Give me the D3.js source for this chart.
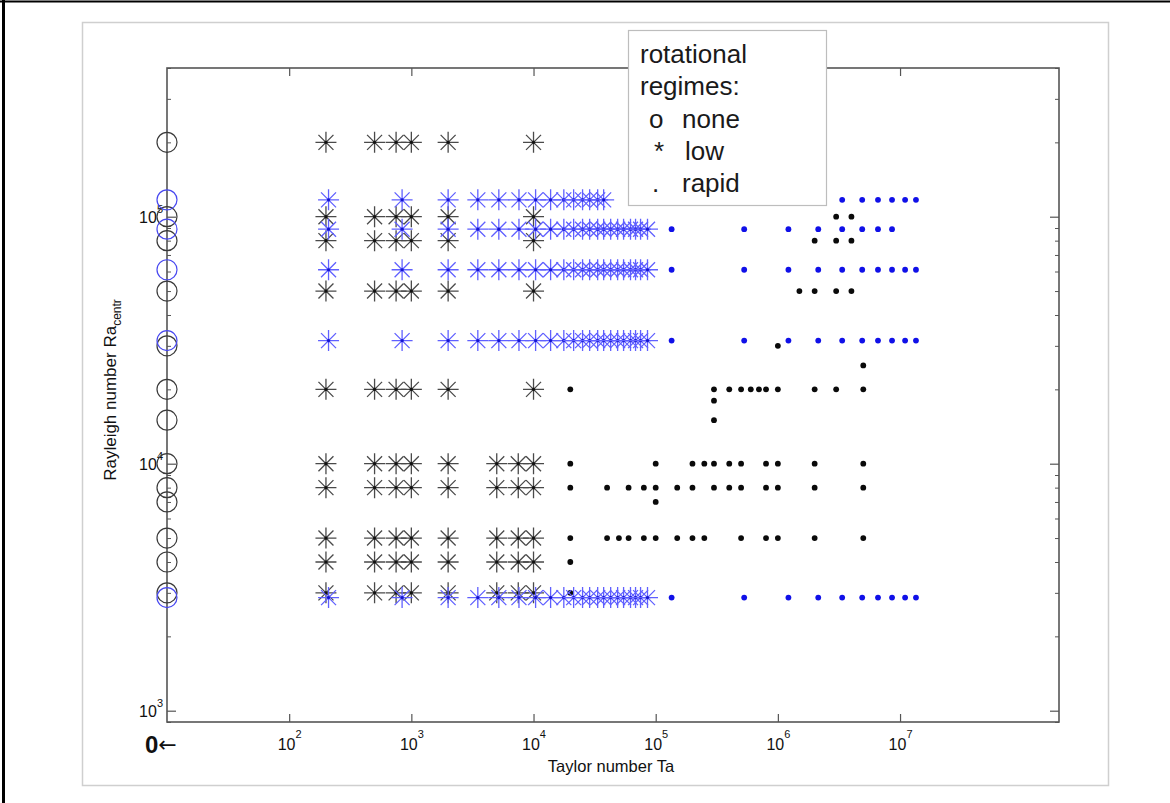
<!DOCTYPE html>
<html>
<head>
<meta charset="utf-8">
<script src="https://cdn.jsdelivr.net/npm/d3@7"></script>
<style>
body { margin: 0; background: #fff; }
svg text { font-family: "Liberation Sans", Arial, Helvetica, sans-serif; }
</style>
</head>
<body>
<div id="chart"></div>
<script>
// --- data (Ta = Taylor number, Ra = Rayleigh number) ---
// regime "none" : Ta = 0, drawn on the left axis
const ra_none_black = [2e5, 1e5, 8e4, 5e4, 3e4, 2e4, 1.5e4, 1e4, 8e3, 7e3, 5e3, 4e3, 3e3];
const ra_none_blue = [1.17e5, 8.9e4, 6.1e4, 3.15e4, 2.87e3];

// regime "low" (asterisks)
const ta_low_black_a = [200, 500, 750, 1000, 2000, 10000];
const ra_low_black_a = [2e5, 1e5, 8e4, 5e4, 2e4];
const ta_low_black_b = [200, 500, 750, 1000, 2000, 5000, 7500, 10000];
const ra_low_black_b = [1e4, 8e3, 5e3, 4e3, 3e3];

const ta_low_blue = [210, 840, 2000, 3500, 5200, 7600, 10400, 13800, 17700, 21300, 25200,
  28800, 33500, 37500, 42800, 48800, 54600, 62200, 68400, 75200, 85700];
const ta_low_blue_top = [210, 840, 2000, 3500, 5200, 7600, 10400, 13800, 17700, 21300, 25200,
  28800, 33500, 37500];
const ra_low_blue = [8.9e4, 6.1e4, 3.15e4, 2.87e3];
const ra_low_blue_top = 1.17e5;

// regime "rapid" (dots)
const ta_rapid_blue = [1.35e5, 5.3e5, 1.22e6, 2.14e6, 3.36e6, 4.9e6, 6.6e6, 8.6e6, 1.1e7, 1.35e7];
const ta_rapid_blue_top = [3.36e6, 4.9e6, 6.6e6, 8.6e6, 1.1e7, 1.35e7];
const ta_rapid_blue_b = [1.35e5, 5.3e5, 1.22e6, 2.14e6, 3.36e6, 4.9e6, 6.6e6, 8.6e6];
const ra_rapid_blue = [6.1e4, 3.15e4, 2.87e3];

const rapid_black = [
  [1e5, [3e6, 4e6]],
  [8e4, [2e6, 3e6, 4e6]],
  [5e4, [1.5e6, 2e6, 3e6, 4e6]],
  [3e4, [1e6]],
  [2.5e4, [5e6]],
  [2e4, [2e4, 3e5, 4e5, 5e5, 6e5, 7e5, 8e5, 1e6, 2e6, 3e6, 5e6]],
  [1.8e4, [3e5]],
  [1.5e4, [3e5]],
  [1e4, [2e4, 1e5, 2e5, 2.5e5, 3e5, 4e5, 5e5, 8e5, 1e6, 2e6, 5e6]],
  [8e3, [2e4, 4e4, 6e4, 8e4, 1e5, 1.5e5, 2e5, 3e5, 4e5, 5e5, 8e5, 1e6, 2e6, 5e6]],
  [7e3, [1e5]],
  [5e3, [2e4, 4e4, 5e4, 6e4, 8e4, 1e5, 1.5e5, 2e5, 2.5e5, 5e5, 8e5, 1e6, 2e6, 5e6]],
  [4e3, [2e4]],
  [3e3, [2e4]]
];

const x_ticks = [1e2, 1e3, 1e4, 1e5, 1e6, 1e7];
const y_ticks = [1e3, 1e4, 1e5];
const legend_lines = ["rotational", "regimes:"];
const legend_items = [["o", "none"], ["*", "low"], [".", "rapid"]];

// --- build point lists ---
function pairs(tas, ras) {
  let out = [];
  ras.forEach(r => tas.forEach(t => out.push([t, r])));
  return out;
}
const pts_none_black = ra_none_black.map(r => [0, r]);
const pts_none_blue = ra_none_blue.map(r => [0, r]);
const pts_low_black = pairs(ta_low_black_a, ra_low_black_a).concat(pairs(ta_low_black_b, ra_low_black_b));
const pts_low_blue = pairs(ta_low_blue_top, [ra_low_blue_top]).concat(pairs(ta_low_blue, ra_low_blue));
const pts_rapid_blue = pairs(ta_rapid_blue_top, [ra_low_blue_top])
  .concat(pairs(ta_rapid_blue_b, [8.9e4]))
  .concat(pairs(ta_rapid_blue, ra_rapid_blue));
let pts_rapid_black = [];
rapid_black.forEach(row => row[1].forEach(t => pts_rapid_black.push([t, row[0]])));

// --- drawing ---
const W = 1170, H = 803;
const svg = d3.select("#chart").append("svg").attr("width", W).attr("height", H);
svg.append("rect").attr("width", W).attr("height", H).attr("fill", "#fff");

// page frame
svg.append("line").attr("x1", 3.5).attr("x2", 3.5).attr("y1", 0).attr("y2", H)
  .attr("stroke", "#000").attr("stroke-width", 3);
svg.append("line").attr("x1", 0).attr("x2", W).attr("y1", 1.5).attr("y2", 1.5)
  .attr("stroke", "#000").attr("stroke-width", 2);
svg.append("rect").attr("x", 82.5).attr("y", 22.5).attr("width", 1026).attr("height", 763)
  .attr("fill", "none").attr("stroke", "#cfcfcf").attr("stroke-width", 1.5);

const x = d3.scaleLog().domain([10, 2e8]).range([167, 1059]);
const y = d3.scaleLog().domain([900, 4e5]).range([722, 68]);
const px = t => t === 0 ? x.range()[0] : x(t);

const axisColor = "#555";
const isPow10 = v => Math.abs(Math.log10(v) - Math.round(Math.log10(v))) < 1e-9;
const y_minor = y.ticks().filter(v => !isPow10(v));

// bottom axis with labels
let gx = svg.append("g").attr("transform", "translate(0,722)")
  .call(d3.axisBottom(x).tickValues(x_ticks).tickSize(-8).tickSizeOuter(0).tickFormat(() => ""));
gx.select(".domain").remove();
gx.attr("font-family", null).attr("font-size", 16);
gx.selectAll(".tick line").attr("stroke", axisColor).attr("stroke-width", 1.2);
gx.selectAll(".tick text").each(function(d) {
  const t = d3.select(this).attr("y", 28).attr("dy", null).attr("fill", "#111").attr("text-anchor", "middle");
  t.append("tspan").text("10");
  t.append("tspan").attr("dy", -12).attr("font-size", 11).text(Math.round(Math.log10(d)));
});

// top axis ticks
let gt = svg.append("g").attr("transform", "translate(0,68)")
  .call(d3.axisTop(x).tickValues(x_ticks).tickSize(-8).tickSizeOuter(0).tickFormat(() => ""));
gt.select(".domain").remove();
gt.selectAll(".tick line").attr("stroke", axisColor).attr("stroke-width", 1.2);

// left axis with labels
let gy = svg.append("g").attr("transform", "translate(167,0)")
  .call(d3.axisLeft(y).tickValues(y_ticks).tickSize(-9).tickSizeOuter(0).tickFormat(() => ""));
gy.select(".domain").remove();
gy.attr("font-family", null).attr("font-size", 16);
gy.selectAll(".tick line").attr("stroke", axisColor).attr("stroke-width", 1.2);
gy.selectAll(".tick text").each(function(d) {
  const t = d3.select(this).attr("x", -4).attr("y", 6).attr("dy", null).attr("fill", "#111");
  t.append("tspan").text("10");
  t.append("tspan").attr("dy", -10).attr("font-size", 11).text(Math.round(Math.log10(d)));
});
let gym = svg.append("g").attr("transform", "translate(167,0)")
  .call(d3.axisLeft(y).tickValues(y_minor).tickSize(-4).tickSizeOuter(0).tickFormat(() => ""));
gym.select(".domain").remove();
gym.selectAll(".tick line").attr("stroke", axisColor);

// right axis ticks
let gr = svg.append("g").attr("transform", "translate(1059,0)")
  .call(d3.axisRight(y).tickValues(y_ticks).tickSize(-9).tickSizeOuter(0).tickFormat(() => ""));
gr.select(".domain").remove();
gr.selectAll(".tick line").attr("stroke", axisColor).attr("stroke-width", 1.2);
let grm = svg.append("g").attr("transform", "translate(1059,0)")
  .call(d3.axisRight(y).tickValues(y_minor).tickSize(-4).tickSizeOuter(0).tickFormat(() => ""));
grm.select(".domain").remove();
grm.selectAll(".tick line").attr("stroke", axisColor);

// axes box
svg.append("rect").attr("x", 167).attr("y", 68).attr("width", 1059 - 167).attr("height", 722 - 68)
  .attr("fill", "none").attr("stroke", axisColor).attr("stroke-width", 1.6);

// markers
const R = 10.5, A = 7.5;
const starPath = `M${-R},0H${R}M0,${-R}V${R}M${-A},${-A}L${A},${A}M${-A},${A}L${A},${-A}`;

function circles(pts, color) {
  svg.append("g").selectAll("circle").data(pts).enter().append("circle")
    .attr("cx", d => px(d[0])).attr("cy", d => y(d[1])).attr("r", 10)
    .attr("fill", "none").attr("stroke", color).attr("stroke-width", 1.2);
}
function stars(pts, color, dot) {
  let g = svg.append("g").selectAll("g").data(pts).enter().append("g")
    .attr("transform", d => `translate(${px(d[0])},${y(d[1])})`);
  g.append("path").attr("d", starPath).attr("fill", "none").attr("stroke", color).attr("stroke-width", 1.3);
  g.append("circle").attr("r", 1.6).attr("fill", dot);
}
function dots(pts, color) {
  svg.append("g").selectAll("circle").data(pts).enter().append("circle")
    .attr("cx", d => px(d[0])).attr("cy", d => y(d[1])).attr("r", 2.9).attr("fill", color);
}

circles(pts_none_black, "#3a3a3a");
stars(pts_low_black, "#4a4a4a", "#111");
dots(pts_rapid_black, "#0a0a0a");
circles(pts_none_blue, "#4848f0");
stars(pts_low_blue, "#6060ff", "#1515d0");
dots(pts_rapid_blue, "#1010e8");

// axis titles
svg.append("text").attr("x", 611).attr("y", 772).attr("text-anchor", "middle")
  .attr("font-size", 16.5).attr("fill", "#111").text("Taylor number Ta");

let yl = svg.append("text").attr("transform", "translate(116,390) rotate(-90)")
  .attr("text-anchor", "middle").attr("font-size", 17).attr("fill", "#111");
yl.append("tspan").text("Rayleigh number Ra");
yl.append("tspan").attr("dy", 5).attr("font-size", 12).text("centr");

// "0 <-" marker under the left axis
let zl = svg.append("text").attr("x", 145).attr("y", 753).attr("fill", "#111");
zl.append("tspan").attr("font-size", 24).attr("font-weight", "bold").text("0");
zl.append("tspan").attr("font-size", 22).attr("dy", -1)
  .style("font-family", "'DejaVu Sans', sans-serif").text("←");

// legend box
let lg = svg.append("g");
lg.append("rect").attr("x", 628.5).attr("y", 30.5).attr("width", 198).attr("height", 175)
  .attr("fill", "#fff").attr("stroke", "#bdbdbd").attr("stroke-width", 1.2);
legend_lines.forEach((s, i) => {
  lg.append("text").attr("x", 640).attr("y", 63 + i * 32.3).attr("font-size", 26)
    .attr("fill", "#1a1a1a").text(s);
});
const symX = [649, 654, 652], labX = [682, 685, 682];
legend_items.forEach((it, i) => {
  let t = lg.append("text").attr("y", 128 + i * 32).attr("font-size", 26).attr("fill", "#1a1a1a");
  t.append("tspan").attr("x", symX[i]).text(it[0]);
  t.append("tspan").attr("x", labX[i]).text(it[1]);
});
</script>
</body>
</html>
